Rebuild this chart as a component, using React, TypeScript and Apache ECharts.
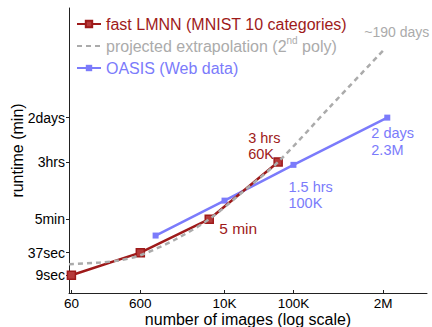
import React, { useEffect, useRef } from 'react';
import * as echarts from 'echarts';

const RED = '#9e1a1a';
const BLUE = '#7b7bfb';
const GRAY = '#ababab';
const FONT = '"Liberation Sans", Arial, Helvetica, sans-serif';

// x: number of images, y: runtime in minutes
const lmnnImages = [60, 600, 6000, 60000];
const lmnnMinutes = [0.15, 0.6167, 5, 180];
const lmnnNotes = ['', '', '5 min', '3 hrs\n60K'];

const oasisImages = [1000, 10000, 100000, 2300000];
const oasisMinutes = [1.8, 16, 150, 2880];
const oasisNotes = ['', '', '1.5 hrs\n100K', '2 days\n2.3M'];

const projImages = [55.4, 155, 302, 600, 1900, 6000, 18500, 60000, 341000, 2150000];
const projMinutes = [0.3, 0.332, 0.384, 0.525, 1.385, 5, 28, 180, 5733, 219500];
const projNotes = ['', '', '', '', '', '', '', '', '', '~190 days'];

const xTickValues = [60, 600, 10000, 100000, 2000000];
const xTickLabels = ['60', '600', '10K', '100K', '2M'];
const yTickValues = [0.15, 37 / 60, 5, 180, 2880];
const yTickLabels = ['9sec', '37sec', '5min', '3hrs', '2days'];

const seriesNames = [
  'fast LMNN (MNIST 10 categories)',
  'projected extrapolation (2nd poly)',
  'OASIS (Web data)',
];

const L = Math.log10;

function lookup(values: number[], labels: string[]) {
  const logs = values.map(L);
  return (v: number) => {
    let best = 0;
    for (let i = 1; i < logs.length; i++) {
      if (Math.abs(logs[i] - v) < Math.abs(logs[best] - v)) best = i;
    }
    return labels[best];
  };
}

type NoteStyle = { align: string; offset: [number, number]; color: string; fontSize: number; lineHeight: number };

function build(xs: number[], ys: number[], notes: string[], styles: Record<number, NoteStyle>) {
  return xs.map((x, i) => {
    const value = [L(x), L(ys[i])];
    const s = styles[i];
    if (!notes[i] || !s) return { value };
    return {
      value,
      label: {
        show: true,
        formatter: notes[i],
        position: 'inside',
        align: s.align,
        verticalAlign: 'middle',
        offset: s.offset,
        color: s.color,
        fontSize: s.fontSize,
        fontFamily: FONT,
        lineHeight: s.lineHeight,
      },
    };
  });
}

export default function App() {
  const ref = useRef<HTMLDivElement>(null);
  useEffect(() => {
    if (!ref.current) return;
    const chart = echarts.init(ref.current, null, { renderer: 'svg' });

    const lmnnData = build(lmnnImages, lmnnMinutes, lmnnNotes, {
      2: { align: 'left', offset: [10, 9], color: RED, fontSize: 15.5, lineHeight: 16 },
      3: { align: 'left', offset: [-30, -16], color: RED, fontSize: 14.5, lineHeight: 16.5 },
    });
    const oasisData = build(oasisImages, oasisMinutes, oasisNotes, {
      2: { align: 'left', offset: [-5, 30], color: BLUE, fontSize: 14.5, lineHeight: 16.5 },
      3: { align: 'left', offset: [-16, 24], color: BLUE, fontSize: 14.5, lineHeight: 16.5 },
    });
    const projData = build(projImages, projMinutes, projNotes, {
      9: { align: 'left', offset: [-21, -16], color: GRAY, fontSize: 14, lineHeight: 16 },
    });

    chart.setOption({
      animation: false,
      backgroundColor: '#fff',
      textStyle: { fontFamily: FONT },
      grid: { left: 69, right: 5, top: 8, bottom: 34, containLabel: false, outerBoundsMode: 'none' },
      legend: {
        orient: 'vertical',
        left: 76,
        top: 13,
        padding: 0,
        itemGap: 0,
        itemWidth: 24,
        itemHeight: 8,
        selectedMode: false,
        data: [
          { name: seriesNames[0], textStyle: { color: RED } },
          { name: seriesNames[1], textStyle: { color: GRAY }, itemStyle: { opacity: 0 } },
          { name: seriesNames[2], textStyle: { color: BLUE } },
        ],
        formatter: (name: string) =>
          name === seriesNames[1] ? 'projected extrapolation (2{sup|nd} poly)' : name,
        textStyle: {
          fontSize: 16,
          lineHeight: 22,
          fontFamily: FONT,
          rich: {
            sup: { fontSize: 10, lineHeight: 10, verticalAlign: 'top', color: GRAY, fontFamily: FONT },
          },
        },
      },
      xAxis: {
        type: 'value',
        min: 1.7433,
        max: 6.938,
        name: 'number of images (log scale)',
        nameLocation: 'middle',
        nameGap: 18,
        nameMoveOverlap: false,
        nameTextStyle: { fontSize: 16, color: '#000', fontFamily: FONT, verticalAlign: 'top', lineHeight: 16 },
        axisLine: { show: true, onZero: false, lineStyle: { color: '#222', width: 1 } },
        axisTick: { show: true, inside: true, length: 3, customValues: xTickValues.map(L), lineStyle: { color: '#222' } },
        axisLabel: {
          customValues: xTickValues.map(L),
          formatter: lookup(xTickValues, xTickLabels),
          fontSize: 13.5,
          lineHeight: 14,
          color: '#000',
          margin: 3,
          fontFamily: FONT,
        },
        splitLine: { show: false },
      },
      yAxis: {
        type: 'value',
        min: -1.3055,
        max: 6.4375,
        name: 'runtime (min)',
        nameLocation: 'middle',
        nameGap: 44,
        nameMoveOverlap: false,
        nameTextStyle: { fontSize: 16, color: '#000', fontFamily: FONT },
        axisLine: { show: true, onZero: false, lineStyle: { color: '#222', width: 1 } },
        axisTick: { show: true, inside: false, length: 3, customValues: yTickValues.map(L), lineStyle: { color: '#222' } },
        axisLabel: {
          customValues: yTickValues.map(L),
          formatter: lookup(yTickValues, yTickLabels),
          fontSize: 14,
          color: '#000',
          margin: 4,
          fontFamily: FONT,
        },
        splitLine: { show: false },
      },
      series: [
        {
          name: seriesNames[2],
          type: 'line',
          data: oasisData,
          symbol: 'rect',
          symbolSize: 6,
          lineStyle: { color: BLUE, width: 2.5 },
          itemStyle: { color: BLUE },
          z: 2,
        },
        {
          name: seriesNames[0],
          type: 'line',
          data: lmnnData,
          symbol: 'rect',
          symbolSize: 8,
          lineStyle: { color: RED, width: 2.5 },
          itemStyle: { color: '#b53a3a', borderColor: RED, borderWidth: 1.5 },
          z: 3,
        },
        {
          name: seriesNames[1],
          type: 'line',
          data: projData,
          symbol: 'circle',
          symbolSize: 0,
          showAllSymbol: true,
          smooth: 0.3,
          lineStyle: { color: GRAY, width: 2.5, type: [5, 4] },
          itemStyle: { color: GRAY },
          z: 4,
        },
      ],
    });
    return () => chart.dispose();
  }, []);

  return (
    <div
      ref={ref}
      style={{ position: 'fixed', left: 0, top: 0, width: 432, height: 327, background: '#fff' }}
    />
  );
}
